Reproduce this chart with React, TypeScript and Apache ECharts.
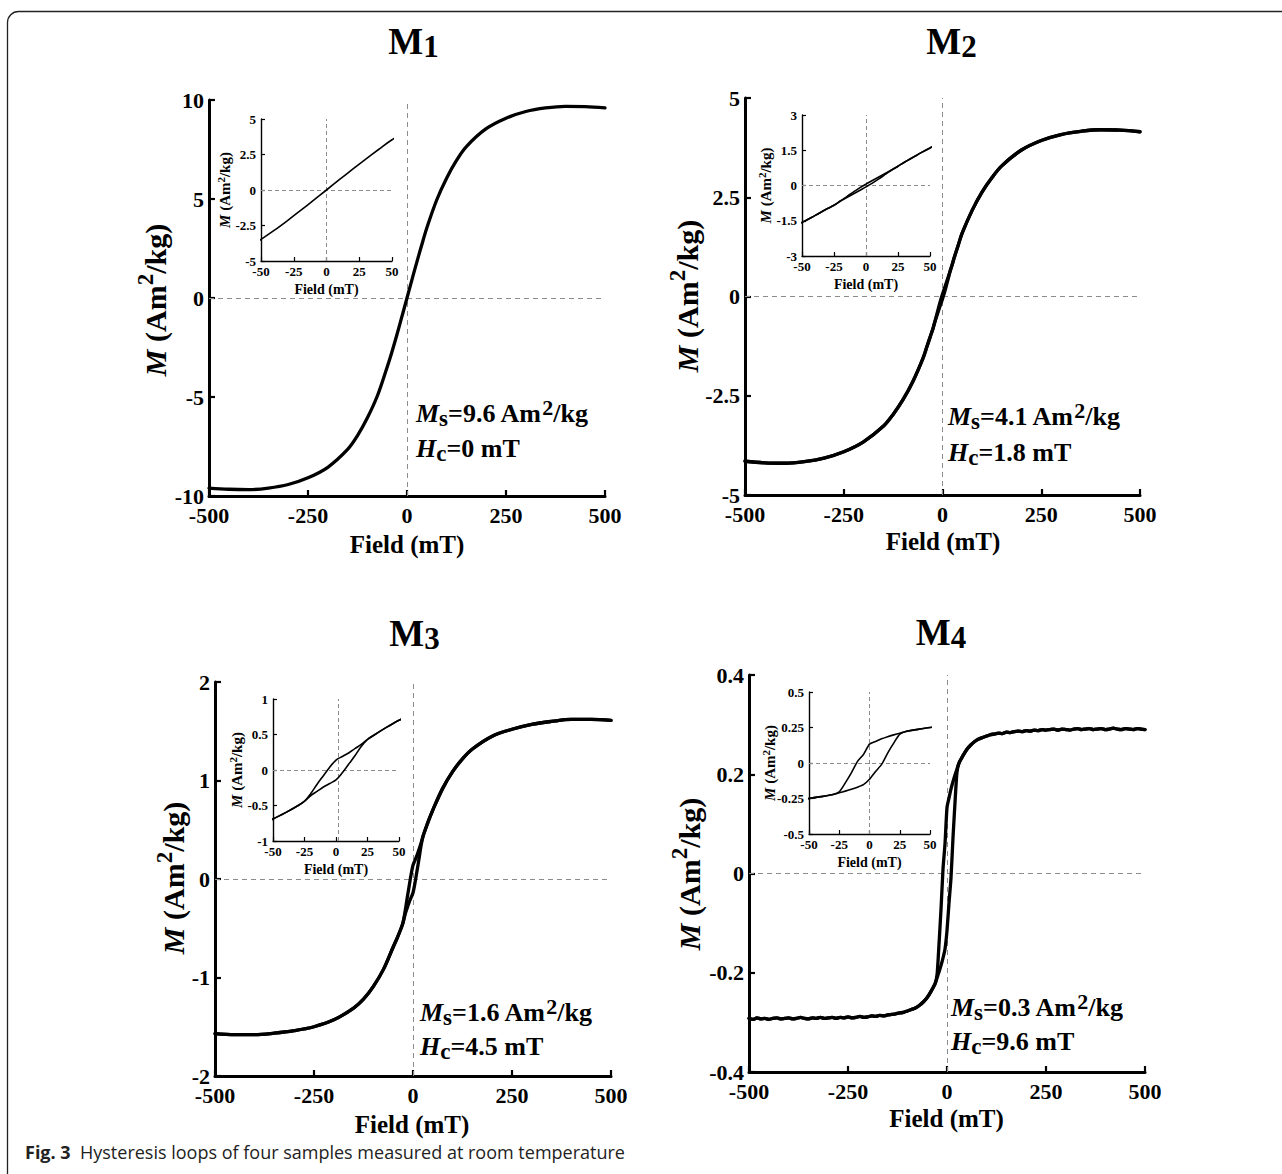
import React, { useEffect, useRef } from 'react';
import * as echarts from 'echarts';

const SERIF = '"Liberation Serif", "Times New Roman", serif';
const SANS = '"Open Sans", "Noto Sans", sans-serif';

// ---------- axis ticks ----------
const fieldMainTicks = { min: -500, max: 500, interval: 250 };
const fieldInsetTicks = { min: -50, max: 50, interval: 25 };
const mainMTicks = [
  { min: -10, max: 10, interval: 5 },
  { min: -5, max: 5, interval: 2.5 },
  { min: -2, max: 2, interval: 1 },
  { min: -0.4, max: 0.4, interval: 0.2 },
];
const insetMTicks = [
  { min: -5, max: 5, interval: 2.5 },
  { min: -3, max: 3, interval: 1.5 },
  { min: -1, max: 1, interval: 0.5 },
  { min: -0.5, max: 0.5, interval: 0.25 },
];

// ---------- labels ----------
const sampleNames = ['1', '2', '3', '4'];
const msValues = ['9.6', '4.1', '1.6', '0.3'];
const hcValues = ['0', '1.8', '4.5', '9.6'];
const captionBold = 'Fig. 3';
const captionText = 'Hysteresis loops of four samples measured at room temperature';

// ---------- M1 ----------
const m1Field = [-500, -450, -400, -350, -300, -250, -200, -150, -125, -100, -75, -50, -40, -30, -20, -10, 0, 10, 20, 30, 40, 50, 75, 100, 125, 150, 200, 250, 300, 350, 400, 450, 500];
const m1M = [-9.6, -9.66, -9.68, -9.6, -9.42, -9.08, -8.55, -7.65, -6.95, -6.05, -4.95, -3.48, -2.85, -2.17, -1.46, -0.73, 0, 0.74, 1.47, 2.18, 2.87, 3.54, 4.95, 6.05, 6.95, 7.65, 8.55, 9.08, 9.42, 9.6, 9.68, 9.67, 9.6];

// ---------- M2 / M3 field grid ----------
const loopField = [-500, -450, -400, -350, -300, -250, -200, -150, -125, -100, -75, -50, -40, -30, -25, -20, -15, -10, -5, 0, 5, 10, 15, 20, 25, 30, 40, 50, 75, 100, 125, 150, 200, 250, 300, 350, 400, 450, 500];

const m2Down = [-4.15, -4.19, -4.2, -4.16, -4.07, -3.91, -3.66, -3.27, -2.97, -2.6, -2.14, -1.57, -1.28, -0.98, -0.84, -0.66, -0.47, -0.28, -0.1, 0.06, 0.21, 0.36, 0.51, 0.66, 0.82, 0.99, 1.3, 1.6, 2.17, 2.63, 2.99, 3.29, 3.69, 3.93, 4.08, 4.16, 4.2, 4.19, 4.15];
const m2Up = [-4.15, -4.19, -4.2, -4.16, -4.07, -3.91, -3.66, -3.27, -2.97, -2.6, -2.14, -1.57, -1.28, -0.98, -0.84, -0.66, -0.51, -0.36, -0.21, -0.06, 0.1, 0.28, 0.47, 0.66, 0.82, 0.99, 1.3, 1.6, 2.17, 2.63, 2.99, 3.29, 3.69, 3.93, 4.08, 4.16, 4.2, 4.19, 4.15];

const m3Down = [-1.57, -1.58, -1.58, -1.565, -1.54, -1.5, -1.43, -1.31, -1.22, -1.09, -0.92, -0.69, -0.6, -0.5, -0.44, -0.33, -0.2, -0.08, 0.04, 0.14, 0.19, 0.24, 0.3, 0.36, 0.43, 0.49, 0.6, 0.7, 0.92, 1.09, 1.22, 1.32, 1.45, 1.52, 1.57, 1.6, 1.62, 1.62, 1.61];
const m3Up = [-1.57, -1.58, -1.58, -1.565, -1.54, -1.5, -1.43, -1.31, -1.22, -1.09, -0.92, -0.69, -0.6, -0.5, -0.44, -0.36, -0.3, -0.24, -0.19, -0.14, -0.04, 0.08, 0.2, 0.33, 0.43, 0.49, 0.6, 0.7, 0.92, 1.09, 1.22, 1.32, 1.45, 1.52, 1.57, 1.6, 1.62, 1.62, 1.61];

// ---------- M4 ----------
const m4SatNegField = [-500, -490, -480, -470, -460, -450, -440, -430, -420, -410, -400, -390, -380, -370, -360, -350, -340, -330, -320, -310, -300, -290, -280, -270, -260, -250, -240, -230, -220, -210, -200, -190, -180, -170, -160, -150, -140, -130, -120, -110, -100];
const m4SatNegM = [-0.292, -0.294, -0.291, -0.293, -0.292, -0.294, -0.292, -0.291, -0.293, -0.292, -0.291, -0.293, -0.292, -0.29, -0.292, -0.293, -0.291, -0.292, -0.29, -0.292, -0.291, -0.29, -0.292, -0.29, -0.291, -0.289, -0.291, -0.29, -0.288, -0.29, -0.289, -0.287, -0.288, -0.286, -0.287, -0.285, -0.284, -0.283, -0.281, -0.28, -0.277];
const m4SatPosField = [100, 110, 120, 130, 140, 150, 160, 170, 180, 190, 200, 210, 220, 230, 240, 250, 260, 270, 280, 290, 300, 310, 320, 330, 340, 350, 360, 370, 380, 390, 400, 410, 420, 430, 440, 450, 460, 470, 480, 490, 500];
const m4SatPosM = [0.277, 0.28, 0.281, 0.283, 0.282, 0.285, 0.284, 0.286, 0.287, 0.286, 0.288, 0.287, 0.289, 0.288, 0.29, 0.289, 0.29, 0.291, 0.289, 0.291, 0.29, 0.289, 0.291, 0.292, 0.29, 0.291, 0.292, 0.29, 0.291, 0.292, 0.29, 0.291, 0.293, 0.291, 0.29, 0.292, 0.291, 0.29, 0.292, 0.291, 0.29];
const m4LoopField = [-90, -80, -70, -60, -50, -40, -30, -25, -20, -15, -10, -5, 0, 5, 10, 15, 20, 25, 30, 40, 50, 60, 70, 80, 90];
const m4DownM = [-0.274, -0.271, -0.266, -0.259, -0.25, -0.237, -0.222, -0.203, -0.14, -0.07, 0.01, 0.06, 0.133, 0.152, 0.17, 0.185, 0.198, 0.21, 0.222, 0.237, 0.25, 0.259, 0.266, 0.271, 0.274];
const m4UpM = [-0.274, -0.271, -0.266, -0.259, -0.25, -0.237, -0.222, -0.21, -0.198, -0.185, -0.17, -0.152, -0.115, -0.06, -0.01, 0.07, 0.14, 0.203, 0.222, 0.237, 0.25, 0.259, 0.266, 0.271, 0.274];

// ---------- helpers ----------
const zip = (xs: number[], ys: number[]) => xs.map((x, i) => [x, ys[i]]);
const m4Field = [...m4SatNegField, ...m4LoopField, ...m4SatPosField];

const branches: number[][][][] = [
  [zip(m1Field, m1M)],
  [zip(loopField, m2Down), zip(loopField, m2Up)],
  [zip(loopField, m3Down), zip(loopField, m3Up)],
  [zip(m4Field, [...m4SatNegM, ...m4DownM, ...m4SatPosM]), zip(m4Field, [...m4SatNegM, ...m4UpM, ...m4SatPosM])],
];
const smoothing = [0.35, 0.35, 0.35, 0.2];

// ---------- layout (pixels) ----------
const layout = [
  { main: [209, 100, 396, 396], inset: [261, 119, 131, 142], insetNameDx: 36, title: [413.5, 41], yName: [155, 300], xName: [407, 544], ann: [416, 413, 448], vline: 0 },
  { main: [745, 98, 395, 397], inset: [802, 115, 128, 141], insetNameDx: 36, title: [951.5, 41], yName: [687, 296], xName: [943, 541], ann: [948, 416, 452], vline: 0 },
  { main: [215, 682, 396, 394], inset: [273, 699, 126, 142], insetNameDx: 36, title: [414.5, 633], yName: [173.5, 878], xName: [412, 1124], ann: [420, 1012, 1046], vline: 2 },
  { main: [749, 675, 396, 397], inset: [809, 692, 121, 142], insetNameDx: 39, title: [941, 632], yName: [689, 874], xName: [946.5, 1118], ann: [951, 1007, 1041], vline: 0 },
];

const font = (size: number, italic = false, family = SERIF, weight = 'bold') =>
  `${italic ? 'italic ' : ''}${weight} ${size}px ${family}`;

function makeAxis(gridIndex: number, t: { min: number; max: number; interval: number }, big: boolean, isY: boolean) {
  return {
    type: 'value',
    gridIndex,
    min: t.min,
    max: t.max,
    interval: t.interval,
    axisLine: { show: true, onZero: false, lineStyle: { color: '#000', width: big ? 3 : 1.4 } },
    axisTick: { show: true, inside: true, length: big ? 6 : 4, lineStyle: { color: '#000', width: big ? 2.2 : 1.2 } },
    axisLabel: {
      show: true,
      color: '#000',
      fontFamily: SERIF,
      fontWeight: 'bold',
      fontSize: big ? 22 : 13,
      margin: big ? (isY ? 5 : 8) : (isY ? 5 : 4),
    },
    splitLine: { show: false },
    splitArea: { show: false },
  };
}

function mText(x: number, y: number, size: number, supSize: number, lh: number, rotate: boolean) {
  return {
    type: 'text',
    x,
    y,
    rotation: rotate ? Math.PI / 2 : 0,
    silent: true,
    z: 10,
    style: {
      text: '{i|M}{n| (Am}{p|2}{n|/kg)}',
      fill: '#000',
      align: 'center',
      verticalAlign: 'middle',
      rich: {
        i: { font: font(size, true), fill: '#000', lineHeight: lh },
        n: { font: font(size), fill: '#000', lineHeight: lh },
        p: { font: font(supSize), fill: '#000', lineHeight: supSize, verticalAlign: 'top' },
      },
    },
  };
}

function plainText(x: number, y: number, text: string, size: number) {
  return {
    type: 'text',
    x,
    y,
    silent: true,
    z: 10,
    style: { text, font: font(size), fill: '#000', align: 'center', verticalAlign: 'middle' },
  };
}

function buildOption() {
  const grid: any[] = [];
  const xAxis: any[] = [];
  const yAxis: any[] = [];
  const series: any[] = [];
  const graphic: any[] = [];

  graphic.push({
    type: 'rect',
    silent: true,
    z: 0,
    shape: { x: 7.5, y: 11.5, width: 1400, height: 1400, r: 11 },
    style: { fill: 'none', stroke: '#222', lineWidth: 1.3 },
  });

  layout.forEach((L, i) => {
    const mainIdx = grid.length;
    grid.push({ left: L.main[0], top: L.main[1], width: L.main[2], height: L.main[3], containLabel: false, outerBoundsMode: 'none' });
    xAxis.push(makeAxis(mainIdx, fieldMainTicks, true, false));
    yAxis.push(makeAxis(mainIdx, mainMTicks[i], true, true));

    const insetIdx = grid.length;
    grid.push({ left: L.inset[0], top: L.inset[1], width: L.inset[2], height: L.inset[3], containLabel: false, outerBoundsMode: 'none' });
    xAxis.push(makeAxis(insetIdx, fieldInsetTicks, false, false));
    yAxis.push(makeAxis(insetIdx, insetMTicks[i], false, true));

    const addSeries = (gIdx: number, width: number, vline: number, dash: number[]) => {
      branches[i].forEach((data, bi) => {
        series.push({
          type: 'line',
          xAxisIndex: gIdx,
          yAxisIndex: gIdx,
          data,
          symbol: 'none',
          showSymbol: false,
          smooth: smoothing[i],
          clip: true,
          silent: true,
          z: 6,
          lineStyle: { color: '#000', width, join: 'round', cap: 'round' },
          itemStyle: { color: '#000' },
          markLine: bi === 0 ? {
            silent: true,
            symbol: ['none', 'none'],
            label: { show: false },
            emphasis: { disabled: true },
            lineStyle: { color: '#8c8c8c', type: dash, width: 1 },
            data: [{ xAxis: vline }, { yAxis: 0 }],
          } : undefined,
        });
      });
    };
    addSeries(mainIdx, 3.3, 0, [5, 4]);
    addSeries(insetIdx, 1.6, L.vline, [4, 3]);

    // title
    graphic.push({
      type: 'text', x: L.title[0], y: L.title[1], silent: true, z: 10,
      style: {
        text: `{m|M}{s|${sampleNames[i]}}`,
        fill: '#000', align: 'center', verticalAlign: 'middle',
        rich: {
          m: { font: font(37), fill: '#000', lineHeight: 42 },
          s: { font: font(31), fill: '#000', lineHeight: 31, verticalAlign: 'bottom' },
        },
      },
    });
    // main axis names
    graphic.push(mText(L.yName[0], L.yName[1], 30, 23, 42, true));
    graphic.push(plainText(L.xName[0], L.xName[1], 'Field (mT)', 25));
    // inset axis names
    const ix = L.inset[0], iy = L.inset[1], iw = L.inset[2], ih = L.inset[3];
    graphic.push(mText(ix - L.insetNameDx, iy + ih / 2, 15, 11, 20, true));
    graphic.push(plainText(ix + iw / 2, iy + ih + 28, 'Field (mT)', 14));
    // annotations
    const annRich = {
      i: { font: font(26, true), fill: '#000', lineHeight: 33 },
      n: { font: font(26), fill: '#000', lineHeight: 33 },
      b: { font: font(23), fill: '#000', lineHeight: 23, verticalAlign: 'bottom' },
      p: { font: font(22), fill: '#000', lineHeight: 22, verticalAlign: 'top' },
    };
    graphic.push({
      type: 'text', x: L.ann[0], y: L.ann[1], silent: true, z: 10,
      style: {
        text: `{i|M}{b|s}{n|=${msValues[i]} Am}{p|2}{n|/kg}`,
        fill: '#000', align: 'left', verticalAlign: 'middle', rich: annRich,
      },
    });
    graphic.push({
      type: 'text', x: L.ann[0], y: L.ann[2], silent: true, z: 10,
      style: {
        text: `{i|H}{b|c}{n|=${hcValues[i]} mT}`,
        fill: '#000', align: 'left', verticalAlign: 'middle', rich: annRich,
      },
    });
  });

  // caption
  graphic.push({
    type: 'text', x: 25, y: 1151.5, silent: true, z: 10,
    style: {
      text: `{b|${captionBold}}{r|  ${captionText}}`,
      fill: '#222', align: 'left', verticalAlign: 'middle',
      rich: {
        b: { font: font(18, false, SANS, 'bold'), fill: '#222', lineHeight: 22 },
        r: { font: font(18, false, SANS, 'normal'), fill: '#222', lineHeight: 22 },
      },
    },
  });

  return {
    animation: false,
    backgroundColor: '#fff',
    grid,
    xAxis,
    yAxis,
    series,
    graphic,
  };
}

export default function App() {
  const ref = useRef<HTMLDivElement>(null);
  useEffect(() => {
    if (!ref.current) return;
    const chart = echarts.init(ref.current, undefined, { renderer: 'svg', width: 1282, height: 1174 });
    chart.setOption(buildOption() as any);
    return () => chart.dispose();
  }, []);
  return (
    <div
      ref={ref}
      style={{ position: 'absolute', left: 0, top: 0, width: 1282, height: 1174, background: '#fff' }}
    />
  );
}
